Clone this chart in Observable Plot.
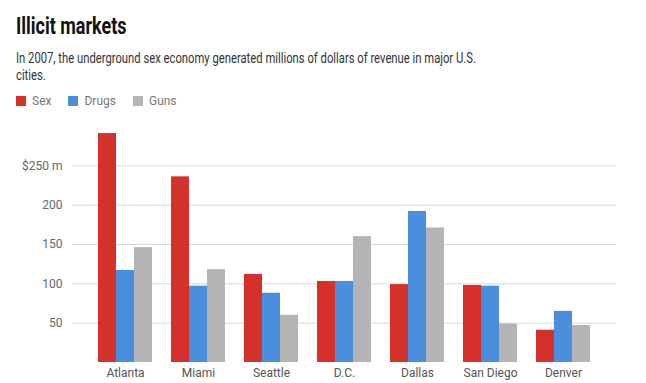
<!DOCTYPE html>
<html>
<head>
<meta charset="utf-8">
<script src="https://cdn.jsdelivr.net/npm/d3@7"></script>
<script src="https://cdn.jsdelivr.net/npm/@observablehq/plot@0.6"></script>
<style>
  html, body { margin: 0; padding: 0; background: #fff; }
  body { width: 646px; height: 383px; position: relative; overflow: hidden; font-family: Roboto, "Noto Sans", sans-serif; }
  #title { position: absolute; left: 16px; top: 14px; font-size: 24px; line-height: 1; font-weight: 700; color: #111; transform: scaleX(0.75); transform-origin: 0 0; white-space: nowrap; }
  #subtitle { position: absolute; left: 16px; top: 50px; font-size: 15px; line-height: 16.5px; color: #333; transform: scaleX(0.75); transform-origin: 0 0; white-space: nowrap; }
  #legend { position: absolute; left: 16px; top: 95px; font-size: 12px; line-height: 12px; color: #777; display: flex; }
  #legend .item { display: flex; align-items: center; margin-right: 17px; }
  #legend .sw { width: 10px; height: 10px; margin-right: 6px; }
  #grid, #chart { position: absolute; left: 0; top: 113px; }
</style>
</head>
<body>
<div id="title">Illicit markets</div>
<div id="subtitle">In 2007, the underground sex economy generated millions of dollars of revenue in major U.S.<br>cities.</div>
<div id="legend"></div>
<div id="grid"></div>
<div id="chart"></div>
<script>
const cities = ["Atlanta", "Miami", "Seattle", "D.C.", "Dallas", "San Diego", "Denver"];
const seriesNames = ["Sex", "Drugs", "Guns"];
const sex   = [291, 236, 112, 103,  99, 98, 41];
const drugs = [117,  97,  88, 103, 192, 97, 65];
const guns  = [146, 118,  60, 160, 171, 49, 47];
const seriesColors = ["#d3312a", "#4a8fde", "#b4b4b4"];
const yTicks = [50, 100, 150, 200, 250];

const valuesBySeries = [sex, drugs, guns];
const data = [];
cities.forEach((c, i) => {
  seriesNames.forEach((s, j) => data.push({city: c, series: s, value: valuesBySeries[j][i]}));
});

// legend
const legend = document.getElementById("legend");
seriesNames.forEach((s, j) => {
  const it = document.createElement("div");
  it.className = "item";
  const sw = document.createElement("span");
  sw.className = "sw";
  sw.style.background = seriesColors[j];
  const t = document.createElement("span");
  t.textContent = s;
  it.appendChild(sw); it.appendChild(t);
  legend.appendChild(it);
});

const common = {
  width: 646,
  height: 270,
  marginLeft: 72,
  marginRight: 30,
  marginTop: 13,
  marginBottom: 21,
  style: {fontFamily: "Roboto, sans-serif", fontSize: "12px", color: "#666", background: "transparent"},
  y: {domain: [0, 300], axis: null}
};

// background layer: grid lines and y axis spanning the full plot width
const grid = Plot.plot({
  ...common,
  marks: [
    Plot.gridY(yTicks, {stroke: "#d9d9d9", strokeOpacity: 1}),
    Plot.axisY(yTicks, {tickSize: 0, tickPadding: 10, label: null, fill: "#666",
      tickFormat: d => d === 250 ? "$250 m" : String(d)})
  ]
});
document.getElementById("grid").appendChild(grid);

// foreground layer: grouped bars
const chart = Plot.plot({
  ...common,
  fx: {domain: cities, paddingInner: 0.23, paddingOuter: 0.3, label: null, axis: null},
  x: {domain: seriesNames, padding: 0, axis: null},
  color: {domain: seriesNames, range: seriesColors},
  marks: [
    Plot.barY(data, {fx: "city", x: "series", y: "value", fill: "series"}),
    Plot.axisFx({tickSize: 0, tickPadding: 6, label: null, fill: "#555", anchor: "bottom"})
  ]
});
document.getElementById("chart").appendChild(chart);
</script>
</body>
</html>
